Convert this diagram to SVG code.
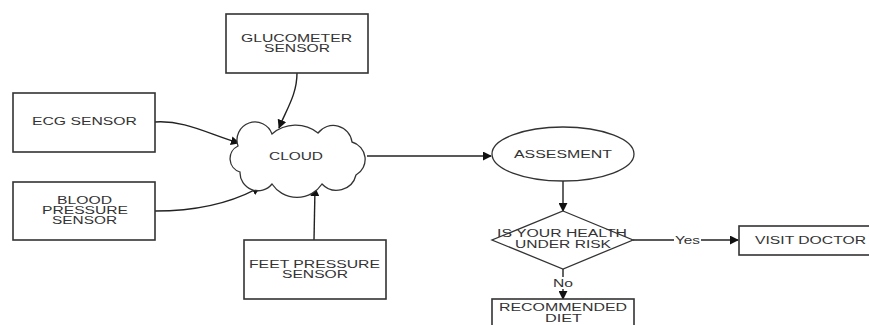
<svg xmlns="http://www.w3.org/2000/svg" width="869" height="325" viewBox="0 0 869 325">
<defs>
<style>
.box{fill:#fff;stroke:#333;stroke-width:1.6}
.shape{fill:#fff;stroke:#333;stroke-width:1.3}
.t{font-family:"Liberation Sans",Arial,sans-serif;font-size:10px;fill:#333;text-anchor:middle}
.c{fill:none;stroke:#222;stroke-width:1.4}
</style>
<marker id="ah" viewBox="0 0 10 10" refX="9" refY="5" markerWidth="9" markerHeight="9" markerUnits="userSpaceOnUse" orient="auto">
<path d="M0,0 L10,5 L0,10 Z" fill="#111"/>
</marker>
</defs>
<rect width="869" height="325" fill="#fff"/>
<g id="connectors">
<path class="c" d="M297,73 C297,95 286,110 279,128" marker-end="url(#ah)"/>
<path class="c" d="M155,122 C185,120 208,134 239,143" marker-end="url(#ah)"/>
<path class="c" d="M155,211 C200,211 235,201 260,187" marker-end="url(#ah)"/>
<path class="c" d="M314,240 L315,188" marker-end="url(#ah)"/>
<path class="c" d="M367,156 L491,156" marker-end="url(#ah)"/>
<path class="c" d="M563,181 L563,211" marker-end="url(#ah)"/>
<path class="c" d="M633,240 L674,240"/>
<path class="c" d="M701,240 L738,240" marker-end="url(#ah)"/>
<path class="c" d="M563,269 L563,277"/>
<path class="c" d="M563,289 L563,299" marker-end="url(#ah)"/>
<text class="t" x="687.5" y="243.5" textLength="25" lengthAdjust="spacingAndGlyphs">Yes</text>
<text class="t" x="563" y="286.5" textLength="20" lengthAdjust="spacingAndGlyphs">No</text>
</g>
<g id="glucometer">
<rect class="box" x="226" y="14" width="142" height="59"/>
<text class="t" x="296.5" y="41.5" textLength="111" lengthAdjust="spacingAndGlyphs">GLUCOMETER</text>
<text class="t" x="297" y="51.5" textLength="66" lengthAdjust="spacingAndGlyphs">SENSOR</text>
</g>
<g id="ecg">
<rect class="box" x="13" y="93" width="142" height="59"/>
<text class="t" x="84.5" y="124.5" textLength="105" lengthAdjust="spacingAndGlyphs">ECG SENSOR</text>
</g>
<g id="bp">
<rect class="box" x="13" y="182" width="142" height="58"/>
<text class="t" x="84.5" y="203.5" textLength="55" lengthAdjust="spacingAndGlyphs">BLOOD</text>
<text class="t" x="85" y="213.5" textLength="86" lengthAdjust="spacingAndGlyphs">PRESSURE</text>
<text class="t" x="84.5" y="223.5" textLength="65" lengthAdjust="spacingAndGlyphs">SENSOR</text>
</g>
<g id="feet">
<rect class="box" x="244" y="240" width="142" height="59"/>
<text class="t" x="314.5" y="267.5" textLength="131" lengthAdjust="spacingAndGlyphs">FEET PRESSURE</text>
<text class="t" x="315" y="277.5" textLength="66" lengthAdjust="spacingAndGlyphs">SENSOR</text>
</g>
<g id="cloud">
<path class="shape" d="M238,146 A17,17 0 0 1 272,134 A36,36 0 0 1 318,133 A19,19 0 0 1 352,142 A18,18 0 0 1 356,175 A20,20 0 0 1 322,184 A30,30 0 0 1 272,184 A18,18 0 0 1 240,172 A14,14 0 0 1 238,146 Z"/>
<text class="t" x="296" y="159.5" textLength="54" lengthAdjust="spacingAndGlyphs">CLOUD</text>
</g>
<g id="assesment">
<ellipse class="shape" cx="563" cy="154" rx="71" ry="27"/>
<text class="t" x="563" y="157.5" textLength="98" lengthAdjust="spacingAndGlyphs">ASSESMENT</text>
</g>
<g id="decision">
<polygon class="shape" points="563,211 633,240 563,269 492,240"/>
<text class="t" x="562" y="236.5" textLength="130" lengthAdjust="spacingAndGlyphs">IS YOUR HEALTH</text>
<text class="t" x="563" y="247.5" textLength="96" lengthAdjust="spacingAndGlyphs">UNDER RISK</text>
</g>
<g id="visit">
<rect class="box" x="739" y="226" width="140" height="29"/>
<text class="t" x="810.5" y="243.5" textLength="111" lengthAdjust="spacingAndGlyphs">VISIT DOCTOR</text>
</g>
<g id="diet">
<rect class="box" x="492" y="299" width="142" height="40"/>
<text class="t" x="563" y="310.5" textLength="128" lengthAdjust="spacingAndGlyphs">RECOMMENDED</text>
<text class="t" x="563.5" y="321.5" textLength="37" lengthAdjust="spacingAndGlyphs">DIET</text>
</g>
</svg>
